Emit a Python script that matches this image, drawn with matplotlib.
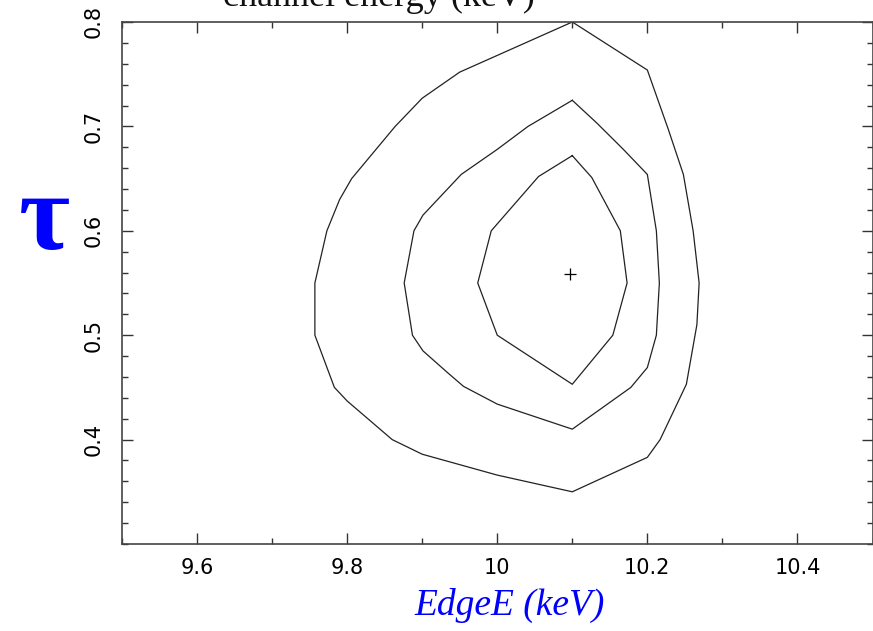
import numpy as np
import matplotlib.pyplot as plt
from matplotlib.ticker import MultipleLocator

# confidence contours in the (EdgeE, tau) plane, one closed polyline per level
outer_e = [10.1, 10.2, 10.228, 10.248, 10.261, 10.269, 10.266, 10.252, 10.217, 10.2,
           10.1, 10.0, 9.9, 9.86, 9.8, 9.783, 9.757, 9.757, 9.773, 9.79, 9.806,
           9.864, 9.9, 9.95, 10.0, 10.1]
outer_tau = [0.8, 0.754, 0.697, 0.654, 0.6, 0.55, 0.51, 0.453, 0.4, 0.383,
             0.35, 0.366, 0.386, 0.4, 0.437, 0.45, 0.5, 0.55, 0.6, 0.63, 0.65,
             0.7, 0.727, 0.752, 0.768, 0.8]

middle_e = [10.1, 10.133, 10.168, 10.2, 10.212, 10.216, 10.212, 10.2, 10.178, 10.1,
            10.0, 9.955, 9.934, 9.901, 9.887, 9.876, 9.889, 9.901, 9.952, 10.0,
            10.041, 10.1]
middle_tau = [0.725, 0.703, 0.678, 0.654, 0.6, 0.55, 0.5, 0.469, 0.45, 0.41,
              0.434, 0.451, 0.464, 0.485, 0.5, 0.55, 0.6, 0.615, 0.654, 0.678,
              0.7, 0.725]

inner_e = [10.1, 10.126, 10.164, 10.173, 10.154, 10.1, 10.0, 9.974, 9.992, 10.055, 10.1]
inner_tau = [0.672, 0.651, 0.6, 0.55, 0.5, 0.453, 0.5, 0.55, 0.6, 0.652, 0.672]

# best fit
best_e = [10.097]
best_tau = [0.559]

fig = plt.figure(figsize=(8.73, 6.31), dpi=100)
ax = fig.add_axes([122 / 873, 1 - 544 / 631, 750.5 / 873, 522 / 631])

for xs, ys in [(outer_e, outer_tau), (middle_e, middle_tau), (inner_e, inner_tau)]:
    ax.plot(xs, ys, color='#222222', lw=0.9)
ax.plot(best_e, best_tau, marker='+', color='black', ms=9, mew=0.9, ls='none')

ax.set_xlim(9.5, 10.5)
ax.set_ylim(0.3, 0.8)
ax.xaxis.set_minor_locator(MultipleLocator(0.1))
ax.yaxis.set_minor_locator(MultipleLocator(0.02))
ax.set_xticks([9.6, 9.8, 10.0, 10.2, 10.4])
ax.set_xticklabels(['9.6', '9.8', '10', '10.2', '10.4'])
ax.set_yticks([0.4, 0.5, 0.6, 0.7, 0.8])
ax.set_yticklabels(['0.4', '0.5', '0.6', '0.7', '0.8'])

ax.tick_params(which='both', direction='in', top=True, right=True, width=1.0,
               color='#333333')
ax.tick_params(which='major', length=8)
ax.tick_params(which='minor', length=4.5)
ax.tick_params(axis='x', labelsize=15, pad=10)
ax.tick_params(axis='y', labelsize=15, pad=13, labelrotation=90)
for lab in ax.get_yticklabels():
    lab.set_va('center')
for s in ax.spines.values():
    s.set_color('#444444')
    s.set_linewidth(1.2)

# axis labels
fig.text(44 / 873, 1 - 222 / 631, 'τ', color='blue', fontsize=80,
         family='Liberation Serif', fontweight='bold', ha='center', va='center')
fig.text(510 / 873, 1 - 605 / 631, 'EdgeE (keV)', color='blue', fontsize=27,
         family='Liberation Serif', style='italic', ha='center', va='center')

# plot heading, mostly above the frame
fig.text(223 / 873, 1 - 6 / 631, 'channel energy (keV)', color='#111111',
         fontsize=26, family='Liberation Serif', ha='left', va='baseline')

fig.savefig('out.png', dpi=100)
